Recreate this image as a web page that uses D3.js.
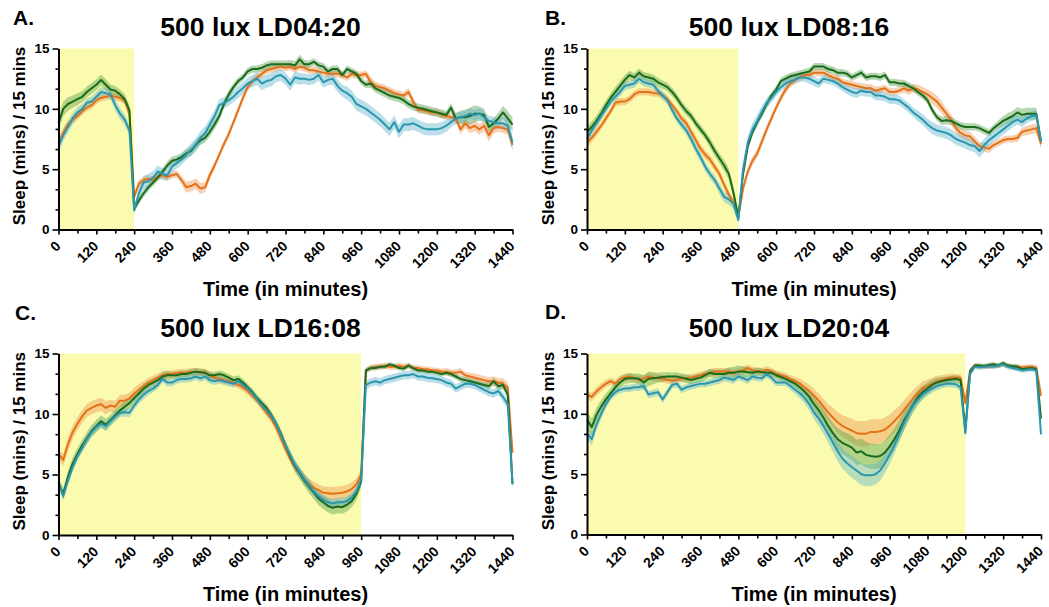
<!DOCTYPE html>
<html>
<head>
<meta charset="utf-8">
<script src="https://cdn.jsdelivr.net/npm/d3@7"></script>
<style>
  body { margin: 0; background: #fff; }
  svg { display: block; }
  text { font-family: "Liberation Sans", Arial, sans-serif; font-weight: bold; fill: #000; }
</style>
</head>
<body>
<svg id="chart" width="1049" height="607"></svg>
<script>
// Sleep per 15-minute bin (mean ± SEM) for three groups under four photoperiods.
// Each array holds 97 bins: 0, 15, 30 ... 1440 minutes.

const panelLetters = ["A.", "B.", "C.", "D."];
const panelTitles = ["500 lux LD04:20", "500 lux LD08:16", "500 lux LD16:08", "500 lux LD20:04"];
const lightsOff = [240, 480, 960, 1200];
const xTickValues = [0, 120, 240, 360, 480, 600, 720, 840, 960, 1080, 1200, 1320, 1440];
const xMinorTicks = [60, 180, 300, 420, 540, 660, 780, 900, 1020, 1140, 1260, 1380];
const yTickValues = [0, 5, 10, 15];
const yMinorTicks = [5 / 3, 10 / 3, 20 / 3, 25 / 3, 35 / 3, 40 / 3];
const xLabel = "Time (in minutes)";
const yLabel = "Sleep (mins) / 15 mins";

// ---- LD04:20 ----
const aOrange = [7.2,8.0,8.7,9.1,9.4,9.8,10.1,10.3, 10.7,10.9,11.0,11.1,11.0,10.9,10.7,9.6,
  2.7,3.8,4.1,4.2,4.1,4.4,4.5,4.35, 4.5,4.6,4.1,3.5,3.6,3.8,3.4,3.5,
  4.5,5.3,6.2,7.1,7.9,8.9,9.9,10.9, 11.8,12.3,12.6,12.9,13.2,13.3,13.4,13.5,
  13.4,13.5,13.3,13.5,13.4,13.2,13.2,13.1, 13.0,12.9,12.9,12.9,12.8,12.6,12.9,12.8,
  12.8,12.9,12.2,11.9,11.8,11.7,11.5,11.3, 11.2,11.1,11.4,10.6,9.9,9.9,9.8,9.7,
  9.7,9.5,9.4,9.3,9.2,8.3,8.8,8.4, 8.6,8.3,8.6,7.8,8.4,8.5,8.4,8.3, 7.0];
const aGreen = [8.8,10.0,10.4,10.6,10.8,11.0,11.4,11.7, 12.0,12.4,12.0,11.6,11.5,11.2,10.8,9.9,
  1.7,2.4,3.0,3.5,3.9,4.3,4.8,5.3, 5.7,5.8,6.0,6.3,6.5,7.0,7.4,7.6,
  8.1,8.7,9.4,10.4,11.2,11.8,12.3,12.6, 13.1,13.3,13.3,13.4,13.6,13.7,13.7,13.7,
  13.7,13.7,13.6,14.1,13.7,13.7,13.9,13.6, 13.5,13.1,13.3,13.3,12.8,13.3,13.1,12.9,
  12.3,12.0,12.1,11.7,11.5,11.3,11.1,11.0, 10.9,10.7,10.4,10.2,10.1,10.0,9.9,9.8,
  9.7,9.6,9.5,10.1,9.2,9.3,9.3,9.4, 9.6,9.6,9.5,8.5,8.8,9.2,9.7,9.2, 8.7];
const aTeal = [6.9,7.8,8.5,9.2,9.7,10.0,10.5,10.6, 11.0,11.4,11.3,11.2,10.3,9.6,9.1,8.2,
  1.6,3.0,3.9,4.0,4.3,4.8,4.6,4.5, 5.2,5.5,5.8,6.2,6.6,7.0,7.6,8.0,
  8.7,9.4,10.3,10.5,10.7,11.0,11.4,11.7, 12.1,12.3,12.5,12.1,12.3,12.4,12.7,12.8,
  12.5,12.0,12.6,12.5,12.5,12.4,12.5,12.8, 12.2,12.4,12.5,11.9,11.5,11.3,11.0,10.4,
  10.2,10.0,9.7,9.4,9.1,8.7,8.3,8.9, 8.1,8.7,8.7,8.8,8.6,8.4,8.3,8.3,
  8.3,8.4,8.6,8.9,9.2,9.3,9.4,9.6, 9.5,9.6,9.3,9.0,8.9,8.8,8.8,8.6, 7.2];
const aOrangeSem = [.4,.4,.35,.35,.3,.3,.3,.3, .3,.3,.3,.3,.3,.3,.3,.4,
  .3,.3,.3,.3,.3,.3,.3,.3, .3,.3,.35,.45,.45,.45,.45,.4,
  .35,.3,.3,.3,.3,.3,.3,.3, .3,.3,.3,.3,.3,.3,.3,.3,
  .3,.3,.3,.3,.3,.3,.3,.3, .3,.3,.3,.3,.3,.3,.3,.3,
  .3,.3,.45,.35,.3,.3,.3,.3, .3,.3,.35,.35,.3,.3,.3,.3,
  .3,.3,.3,.3,.3,.4,.4,.4, .45,.45,.45,.5,.45,.4,.4,.45, .5];
const aGreenSem = [.6,.6,.55,.5,.5,.45,.45,.45, .45,.45,.45,.4,.4,.4,.4,.4,
  .3,.3,.3,.3,.3,.3,.3,.35, .35,.35,.35,.4,.4,.4,.4,.4,
  .4,.4,.4,.35,.35,.35,.3,.3, .3,.3,.3,.3,.3,.3,.3,.3,
  .3,.35,.35,.4,.35,.3,.3,.3, .3,.3,.3,.3,.3,.3,.3,.3,
  .3,.3,.35,.35,.35,.35,.35,.35, .35,.35,.35,.35,.35,.35,.35,.35,
  .35,.35,.35,.4,.45,.55,.65,.7, .7,.6,.5,.45,.45,.5,.55,.6, .6];
const aTealSem = [.5,.5,.5,.45,.45,.4,.4,.4, .4,.4,.4,.4,.45,.45,.45,.45,
  .3,.5,.55,.6,.55,.5,.5,.45, .45,.45,.45,.45,.5,.55,.55,.55,
  .5,.5,.5,.45,.45,.45,.5,.5, .5,.5,.55,.55,.55,.55,.5,.5,
  .5,.5,.5,.5,.45,.45,.45,.45, .45,.45,.5,.5,.5,.55,.55,.55,
  .55,.55,.55,.55,.55,.55,.55,.55, .55,.55,.55,.55,.5,.5,.5,.5,
  .5,.5,.5,.45,.45,.45,.45,.45, .45,.45,.45,.45,.45,.45,.5,.55, .55];

// ---- LD08:16 ----
const bOrange = [7.2,7.6,8.1,8.6,9.2,9.8,10.5,10.6, 10.6,10.8,11.2,11.4,11.4,11.4,11.3,11.3,
  11.1,10.8,10.3,9.8,9.2,8.8,8.1,7.4, 6.7,6.2,5.8,5.2,4.6,3.7,2.9,2.2,
  1.0,3.4,4.8,5.7,6.3,7.3,8.3,9.2, 10.1,10.9,11.6,12.1,12.4,12.6,12.8,12.8,
  13.0,13.0,13.0,12.8,12.6,12.5,12.2,12.1, 12.0,11.9,11.8,11.7,11.7,11.5,11.6,11.7,
  11.4,11.4,11.5,11.7,11.5,11.7,11.6,11.4, 11.2,10.9,10.6,10.1,9.6,9.1,8.4,8.0,
  7.8,7.7,7.3,6.9,6.8,6.7,7.0,7.2, 7.4,7.5,7.5,7.6,8.1,8.2,8.3,8.4, 7.1];
const bGreen = [8.1,8.5,9.0,9.6,10.3,10.9,11.4,11.9, 12.4,12.8,12.6,13.0,12.7,12.6,12.5,12.2,
  12.0,11.8,11.4,10.9,10.3,9.8,9.4,8.8, 8.3,7.8,7.2,6.5,5.9,5.3,4.6,3.0,
  1.0,4.6,6.9,8.1,8.9,9.6,10.4,11.1, 11.6,12.3,12.5,12.7,12.8,12.9,13.0,13.1,
  13.5,13.5,13.5,13.3,13.2,13.0,13.0,12.9, 12.6,12.8,13.0,12.6,12.7,12.7,12.6,12.8,
  12.2,12.2,12.1,12.1,11.9,11.7,11.4,11.1, 10.7,9.9,9.3,9.0,9.05,9.0,8.8,8.6,
  8.5,8.5,8.5,8.4,8.2,8.0,8.4,8.7, 9.0,9.2,9.4,9.7,9.5,9.6,9.6,9.6, 7.3];
const bTeal = [7.5,8.2,8.8,9.4,10.0,10.6,11.0,11.4, 11.9,12.0,12.1,12.5,12.2,12.1,12.0,11.5,
  11.1,10.7,9.9,9.2,8.7,8.2,7.5,6.7, 6.0,5.2,4.6,4.1,3.4,2.7,2.5,2.1,
  0.8,5.0,7.2,8.3,9.0,9.8,10.5,10.9, 11.4,11.8,12.1,12.3,12.4,12.6,12.6,12.5,
  12.3,12.1,12.5,12.4,12.3,12.1,11.8,11.6, 11.4,11.3,11.5,11.4,11.4,11.1,11.1,11.0,
  10.8,10.8,10.7,10.4,10.1,9.7,9.4,9.1, 8.7,8.4,8.2,8.1,8.0,7.8,7.5,7.35,
  7.2,7.0,6.9,6.5,7.0,7.4,7.7,8.0, 8.3,8.6,8.9,9.1,8.9,9.2,9.4,9.5, 7.3];
const bOrangeSem = [.4,.35,.35,.3,.3,.3,.3,.3, .3,.3,.3,.3,.3,.3,.3,.3,
  .3,.3,.3,.3,.3,.35,.35,.35, .35,.35,.35,.35,.35,.35,.3,.3,
  .3,.35,.35,.35,.35,.35,.35,.3, .3,.3,.3,.3,.3,.3,.3,.3,
  .3,.3,.3,.3,.3,.3,.3,.3, .3,.3,.35,.35,.35,.35,.3,.3,
  .3,.3,.3,.35,.35,.35,.4,.4, .45,.5,.5,.5,.45,.45,.4,.4,
  .4,.4,.4,.35,.35,.35,.3,.3, .3,.3,.3,.35,.35,.4,.4,.4, .4];
const bGreenSem = [.45,.45,.45,.45,.4,.4,.4,.4, .4,.35,.35,.35,.35,.35,.35,.35,
  .35,.35,.35,.35,.35,.35,.35,.35, .35,.35,.4,.4,.4,.45,.45,.45,
  .4,.3,.3,.3,.3,.3,.3,.3, .3,.3,.3,.3,.3,.3,.3,.3,
  .3,.3,.3,.3,.3,.3,.3,.3, .3,.3,.3,.3,.3,.3,.3,.3,
  .3,.3,.3,.3,.3,.3,.3,.3, .3,.3,.3,.35,.35,.35,.3,.3,
  .3,.3,.3,.3,.3,.3,.3,.35, .4,.45,.45,.45,.5,.5,.5,.5, .5];
const bTealSem = [.35,.35,.35,.35,.35,.35,.35,.35, .35,.35,.35,.35,.35,.35,.35,.35,
  .35,.35,.35,.35,.35,.35,.4,.4, .4,.4,.4,.4,.45,.45,.45,.45,
  .3,.5,.55,.55,.5,.45,.4,.4, .35,.35,.35,.35,.35,.35,.35,.4,
  .4,.4,.35,.35,.35,.35,.35,.4, .4,.4,.4,.4,.4,.4,.4,.4,
  .4,.4,.4,.4,.4,.4,.45,.45, .45,.5,.5,.5,.5,.5,.5,.5,
  .5,.5,.5,.55,.55,.5,.45,.45, .45,.45,.45,.4,.4,.4,.4,.4, .4];

// ---- LD16:08 ----
const cOrange = [6.7,6.2,7.5,8.5,9.2,9.8,10.3,10.5, 10.7,10.8,10.5,10.7,10.6,11.1,11.1,11.3,
  11.7,12.0,12.3,12.6,12.8,13.0,13.2,13.3, 13.3,13.4,13.4,13.4,13.5,13.5,13.45,13.45,
  13.2,13.0,12.9,12.8,12.7,12.6,12.4,12.2, 11.9,11.5,11.1,10.6,10.1,9.6,8.9,8.0,
  7.1,6.3,5.6,5.1,4.6,4.2,3.9,3.7, 3.5,3.45,3.4,3.45,3.5,3.6,3.8,4.2,
  5.0,13.6,13.8,13.9,13.9,14.0,13.9,13.9, 14.0,13.9,14.0,13.8,13.8,13.7,13.7,13.6,
  13.6,13.5,13.5,13.4,13.4,13.5,13.2,13.1, 13.0,12.9,12.8,12.7,12.7,12.6,12.5,12.2, 6.8];
const cGreen = [4.3,3.4,4.8,5.9,6.7,7.4,8.0,8.6, 9.0,9.4,9.1,9.5,9.9,10.3,10.6,10.9,
  11.3,11.7,12.1,12.4,12.6,12.8,13.1,13.2, 13.2,13.2,13.3,13.3,13.4,13.5,13.45,13.4,
  13.2,13.2,13.3,13.2,13.0,12.8,12.9,12.6, 12.2,11.8,11.3,10.9,10.5,9.9,9.2,8.4,
  7.4,6.5,5.7,5.1,4.5,4.0,3.5,3.0, 2.7,2.4,2.25,2.35,2.3,2.5,2.8,3.4,
  4.4,13.6,13.8,13.8,13.9,13.9,14.1,14.0, 13.8,13.75,14.0,13.8,13.6,13.6,13.5,13.5,
  13.4,13.3,13.4,13.3,13.1,12.9,12.8,12.7, 12.6,12.5,12.4,12.3,12.7,12.3,12.4,11.6, 4.2];
const cTeal = [4.4,3.2,4.5,5.6,6.5,7.2,7.9,8.5, 8.9,9.2,9.0,9.4,9.8,10.1,10.15,10.1,
  10.7,11.2,11.6,11.9,12.1,12.4,12.9,12.6, 12.6,12.8,12.9,12.9,12.95,13.1,12.95,13.1,
  12.8,12.7,12.8,12.7,12.6,12.5,12.7,12.4, 12.1,11.7,11.2,10.7,10.3,9.8,9.2,8.3,
  7.4,6.6,5.8,5.2,4.6,4.1,3.6,3.2, 2.9,2.7,2.6,2.7,2.7,2.8,3.1,3.6,
  4.6,12.4,12.6,12.7,12.6,12.8,12.9,13.0, 13.1,13.2,13.2,13.3,13.1,13.1,13.0,12.95,
  12.9,12.8,12.6,12.5,12.1,12.3,12.5,12.5, 12.4,12.2,12.0,11.8,11.7,11.9,11.4,10.8, 4.2];
const cOrangeSem = [.45,.5,.55,.55,.55,.55,.55,.55, .55,.55,.55,.5,.5,.5,.5,.45,
  .45,.45,.4,.4,.35,.35,.35,.3, .3,.3,.3,.3,.3,.3,.3,.3,
  .3,.3,.3,.3,.3,.3,.3,.3, .3,.3,.3,.3,.3,.3,.35,.35,
  .35,.35,.4,.4,.45,.45,.5,.5, .5,.55,.55,.55,.55,.55,.55,.5,
  .45,.25,.25,.25,.25,.25,.25,.25, .25,.25,.25,.25,.25,.25,.25,.25,
  .25,.25,.3,.3,.3,.3,.3,.3, .35,.35,.35,.35,.4,.4,.45,.45, .45];
const cGreenSem = [.45,.45,.5,.5,.5,.5,.5,.5, .5,.5,.5,.45,.45,.45,.45,.45,
  .4,.4,.4,.35,.35,.35,.35,.35, .3,.3,.3,.3,.3,.3,.3,.3,
  .3,.3,.3,.3,.3,.3,.3,.3, .3,.3,.3,.3,.3,.35,.35,.4,
  .4,.45,.45,.5,.5,.55,.55,.55, .55,.55,.55,.55,.55,.55,.5,.5,
  .45,.2,.2,.2,.2,.2,.2,.2, .2,.2,.2,.2,.2,.2,.2,.2,
  .2,.2,.2,.25,.25,.25,.25,.25, .25,.25,.25,.3,.3,.3,.35,.35, .35];
const cTealSem = [.35,.35,.35,.35,.35,.35,.35,.35, .35,.35,.35,.35,.35,.35,.35,.35,
  .35,.35,.35,.35,.3,.3,.3,.3, .3,.3,.3,.3,.3,.3,.3,.3,
  .3,.3,.3,.3,.3,.3,.3,.3, .3,.3,.3,.3,.3,.3,.35,.35,
  .35,.35,.4,.4,.4,.4,.4,.4, .4,.4,.4,.4,.4,.4,.4,.4,
  .4,.35,.35,.35,.35,.35,.35,.35, .35,.35,.35,.35,.35,.35,.35,.35,
  .35,.35,.35,.35,.35,.35,.35,.35, .35,.35,.35,.35,.35,.35,.4,.4, .4];

// ---- LD20:04 ----
const dOrange = [11.6,11.4,11.85,12.2,12.5,12.7,12.5,12.9, 13.0,13.1,12.95,12.85,12.9,13.1,13.0,12.95,
  12.9,12.8,12.75,12.8,12.95,12.95,13.0,13.1, 13.2,13.3,13.4,13.5,13.5,13.5,13.5,13.4,
  13.5,13.6,13.8,13.6,13.55,13.5,13.65,13.5, 13.3,13.2,13.1,12.9,12.7,12.5,12.2,11.9,
  11.5,11.1,10.6,10.1,9.7,9.3,9.0,8.8, 8.6,8.4,8.35,8.35,8.5,8.5,8.55,8.7,
  9.0,9.4,9.8,10.3,10.8,11.3,11.7,12.1, 12.3,12.5,12.7,12.8,12.9,13.0,13.0,13.0,
  10.9,13.6,14.0,13.9,13.95,13.9,14.0,14.0, 14.1,13.95,13.9,13.9,13.85,13.9,13.9,13.85, 11.5];
const dGreen = [9.5,8.9,9.9,10.6,11.2,11.7,12.2,12.6, 12.9,12.95,12.95,12.9,12.6,12.9,12.95,13.0,
  13.05,13.1,13.1,13.1,13.0,12.9,12.8,12.9, 13.0,13.2,13.4,13.3,13.3,13.3,13.4,13.4,
  13.5,13.5,13.45,13.4,13.5,13.45,13.4,13.4, 13.2,13.05,12.9,12.7,12.5,12.2,11.85,11.4,
  10.8,10.3,9.7,9.0,8.4,7.9,7.6,7.4, 7.2,6.8,6.9,6.6,6.5,6.45,6.5,6.8,
  7.3,7.9,8.6,9.4,10.1,10.8,11.4,11.8, 12.1,12.4,12.6,12.7,12.8,12.85,12.9,12.8,
  8.6,13.5,14.0,14.0,13.95,14.05,14.1,14.0, 14.2,14.0,13.95,13.9,13.7,13.75,13.8,13.7, 9.6];
const dTeal = [8.4,7.9,9.1,10.0,10.8,11.4,11.8,12.0, 12.1,12.1,12.2,12.2,12.3,11.6,11.7,11.8,
  11.2,11.8,12.4,12.5,12.0,12.2,12.3,12.4, 12.5,12.5,12.6,12.7,12.8,13.0,12.9,12.8,
  13.1,12.95,12.8,13.1,13.0,12.95,13.3,13.0, 12.6,12.6,12.6,12.3,12.0,11.7,11.3,10.8,
  10.1,9.6,9.0,8.3,7.6,6.9,6.3,5.9, 5.6,5.3,5.0,4.9,4.9,5.0,5.3,5.9,
  6.6,7.4,8.3,9.2,10.0,10.7,11.2,11.6, 11.9,12.1,12.3,12.4,12.5,12.5,12.45,12.2,
  8.4,13.3,13.9,13.85,13.9,13.95,13.9,14.0, 14.1,13.9,13.8,13.7,13.6,13.65,13.7,13.6, 8.3];
const dOrangeSem = [.35,.35,.35,.35,.3,.3,.3,.3, .3,.3,.3,.3,.3,.3,.3,.3,
  .3,.3,.3,.3,.3,.3,.3,.3, .3,.3,.3,.3,.3,.3,.3,.3,
  .3,.3,.3,.3,.3,.3,.3,.3, .3,.3,.3,.3,.35,.4,.45,.5,
  .55,.6,.65,.7,.8,.85,.9,.95, 1.0,1.0,1.05,1.05,1.05,1.05,1.0,1.0,
  .95,.9,.85,.8,.75,.7,.65,.6, .55,.5,.45,.4,.35,.35,.3,.3,
  .3,.2,.2,.2,.2,.2,.2,.2, .2,.2,.2,.2,.2,.2,.2,.2, .3];
const dGreenSem = [.7,.7,.6,.55,.5,.45,.45,.4, .4,.4,.4,.45,.6,.6,.5,.4,
  .4,.35,.35,.35,.35,.35,.35,.35, .35,.35,.35,.35,.35,.4,.45,.5,
  .5,.45,.4,.35,.35,.3,.3,.3, .3,.3,.3,.3,.35,.4,.45,.5,
  .55,.6,.7,.8,.85,.9,.95,1.0, 1.0,1.05,1.05,1.05,1.05,1.05,1.0,1.0,
  .95,.9,.85,.8,.7,.65,.6,.55, .5,.45,.4,.35,.3,.3,.3,.3,
  .35,.2,.2,.2,.2,.2,.2,.2, .2,.2,.2,.2,.2,.2,.2,.2, .3];
const dTealSem = [.5,.5,.45,.4,.35,.3,.3,.3, .3,.3,.3,.3,.3,.3,.3,.3,
  .3,.3,.3,.3,.3,.3,.3,.3, .3,.3,.3,.3,.3,.3,.3,.3,
  .3,.3,.3,.3,.3,.3,.3,.3, .3,.3,.3,.3,.35,.4,.45,.5,
  .55,.6,.65,.7,.75,.8,.85,.85, .9,.9,.9,.9,.9,.85,.85,.8,
  .75,.7,.65,.6,.55,.5,.45,.4, .4,.35,.35,.3,.3,.3,.3,.3,
  .3,.2,.2,.2,.2,.2,.2,.2, .2,.2,.2,.2,.2,.2,.2,.2, .3];

const panelSeries = [
  [[aOrange, aOrangeSem], [aGreen, aGreenSem], [aTeal, aTealSem]],
  [[bOrange, bOrangeSem], [bGreen, bGreenSem], [bTeal, bTealSem]],
  [[cOrange, cOrangeSem], [cGreen, cGreenSem], [cTeal, cTealSem]],
  [[dOrange, dOrangeSem], [dGreen, dGreenSem], [dTeal, dTealSem]]
];

// ---- presentation ----
const lineColors = ["#e4721a", "#1b6b1b", "#2b97ae"];
const bandColors = ["#ef9a55", "#4f9c4a", "#5bb2c8"];
const bandOpacity = [0.45, 0.42, 0.42];
const lightColor = "#fbfbb0";

const layout = [
  { left: 58.5, right: 512.5, top: 48.5, bottom: 229.5, titleY: 36, letterX: 13, letterY: 25, yLabelX: 25, xLabelY: 296 },
  { left: 587, right: 1041, top: 48.5, bottom: 229.5, titleY: 36, letterX: 545, letterY: 25, yLabelX: 554, xLabelY: 296 },
  { left: 58.5, right: 512.5, top: 353.5, bottom: 535, titleY: 337, letterX: 15, letterY: 320, yLabelX: 25, xLabelY: 601 },
  { left: 587, right: 1041, top: 353.5, bottom: 534.5, titleY: 337, letterX: 545, letterY: 319, yLabelX: 554, xLabelY: 601 }
];

const svg = d3.select("#chart");
const binMinutes = d3.range(0, 1441, 15);
const plainNumber = d3.format("d");

layout.forEach((L, p) => {
  const g = svg.append("g");
  const x = d3.scaleLinear().domain([0, 1440]).range([L.left, L.right]);
  const y = d3.scaleLinear().domain([0, 15]).range([L.bottom, L.top]);
  const cx = (L.left + L.right) / 2;
  const cy = (L.top + L.bottom) / 2;

  // light phase
  g.append("rect")
    .attr("x", x(0)).attr("y", y(15))
    .attr("width", x(lightsOff[p]) - x(0))
    .attr("height", y(0) - y(15))
    .attr("fill", lightColor);

  const series = panelSeries[p];

  // SEM bands
  series.forEach(([mean, sem], s) => {
    const pts = binMinutes.map((m, i) => ({ m, v: mean[i], e: sem[i] }));
    const area = d3.area()
      .x(d => x(d.m))
      .y0(d => y(Math.max(0, d.v - d.e)))
      .y1(d => y(d.v + d.e));
    g.append("path").datum(pts)
      .attr("d", area)
      .attr("fill", bandColors[s])
      .attr("fill-opacity", bandOpacity[s]);
  });

  // mean lines
  series.forEach(([mean], s) => {
    const pts = binMinutes.map((m, i) => ({ m, v: mean[i] }));
    const line = d3.line().x(d => x(d.m)).y(d => y(d.v));
    g.append("path").datum(pts)
      .attr("d", line)
      .attr("fill", "none")
      .attr("stroke", lineColors[s])
      .attr("stroke-width", 2)
      .attr("stroke-linejoin", "round");
  });

  // x axis
  const gxMinor = g.append("g").attr("transform", `translate(0,${L.bottom})`)
    .call(d3.axisBottom(x).tickValues(xMinorTicks).tickSize(4).tickSizeOuter(0).tickFormat(""));
  gxMinor.select(".domain").remove();
  gxMinor.selectAll("line").attr("stroke", "#000").attr("stroke-width", 1.6);

  const gx = g.append("g").attr("transform", `translate(0,${L.bottom})`)
    .call(d3.axisBottom(x).tickValues(xTickValues).tickSize(5).tickSizeOuter(0).tickFormat(plainNumber));
  gx.select(".domain").attr("stroke", "#000").attr("stroke-width", 2);
  gx.selectAll(".tick line").attr("stroke", "#000").attr("stroke-width", 1.6);
  gx.selectAll(".tick text")
    .attr("x", 0).attr("y", 0).attr("dy", "0.35em")
    .attr("transform", "translate(-1,14) rotate(-45)")
    .attr("text-anchor", "end")
    .attr("font-size", 14)
    .attr("font-family", null)
    .attr("fill", "#000");

  // y axis
  const gyMinor = g.append("g").attr("transform", `translate(${L.left},0)`)
    .call(d3.axisLeft(y).tickValues(yMinorTicks).tickSize(3).tickSizeOuter(0).tickFormat(""));
  gyMinor.select(".domain").remove();
  gyMinor.selectAll("line").attr("stroke", "#000").attr("stroke-width", 1.6);

  const gy = g.append("g").attr("transform", `translate(${L.left},0)`)
    .call(d3.axisLeft(y).tickValues(yTickValues).tickSize(6).tickPadding(3).tickSizeOuter(0).tickFormat(plainNumber));
  gy.select(".domain").attr("stroke", "#000").attr("stroke-width", 2);
  gy.selectAll(".tick line").attr("stroke", "#000").attr("stroke-width", 1.6);
  gy.selectAll(".tick text").attr("font-size", 13.5).attr("font-family", null).attr("fill", "#000");

  // titles and labels
  g.append("text").attr("x", cx - 25).attr("y", L.titleY)
    .attr("text-anchor", "middle").attr("font-size", 26.5).text(panelTitles[p]);
  g.append("text").attr("x", L.letterX).attr("y", L.letterY)
    .attr("font-size", 21).text(panelLetters[p]);
  g.append("text").attr("transform", `translate(${L.yLabelX},${cy - 3}) rotate(-90)`)
    .attr("text-anchor", "middle").attr("font-size", 17).text(yLabel);
  g.append("text").attr("x", cx).attr("y", L.xLabelY)
    .attr("text-anchor", "middle").attr("font-size", 20).text(xLabel);
});
</script>
</body>
</html>
